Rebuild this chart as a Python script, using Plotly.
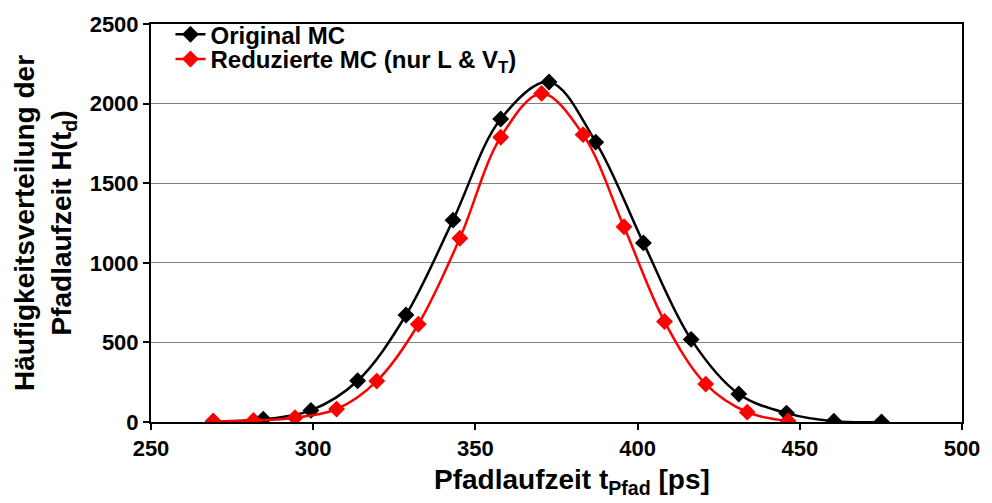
import plotly.graph_objects as go

# Path delay histogram: full Monte Carlo vs. reduced Monte Carlo (L and V_T only)
t_original = [269.2, 284.6, 299.3, 313.7, 328.6, 343.1, 357.8, 372.7, 387.1,
              401.8, 416.5, 431.2, 445.9, 460.5, 475.2]
h_original = [5, 17, 73, 259, 672, 1268, 1903, 2136, 1758,
              1125, 519, 176, 56, 5, 0]

t_reduced = [269.2, 281.6, 294.4, 307.2, 319.6, 332.4, 345.2, 357.8, 370.4,
             383.2, 395.8, 408.3, 421.0, 433.8, 446.4]
h_reduced = [5, 10, 27, 81, 257, 614, 1154, 1789, 2064,
             1805, 1226, 631, 238, 62, 6]

x_ticks = [250, 300, 350, 400, 450, 500]
y_ticks = [0, 500, 1000, 1500, 2000, 2500]

FONT = "Liberation Sans, Arial, sans-serif"

fig = go.Figure()
fig.add_trace(go.Scatter(
    x=t_original, y=h_original, mode="lines+markers", name="Original MC",
    line=dict(color="#000000", width=2.5, shape="spline", smoothing=1),
    marker=dict(symbol="diamond", size=13, color="#000000"),
    legend="legend",
))
fig.add_trace(go.Scatter(
    x=t_reduced, y=h_reduced, mode="lines+markers",
    name="Reduzierte MC (nur L &amp; V<sub>T</sub>)",
    line=dict(color="#FF0000", width=2.5, shape="spline", smoothing=1),
    marker=dict(symbol="diamond", size=13, color="#FF0000"),
    legend="legend2",
))

legend_style = dict(
    xanchor="left", yanchor="middle",
    bgcolor="rgba(0,0,0,0)", borderwidth=0,
    font=dict(family=FONT, size=24, color="black", weight="bold"),
    itemwidth=30,
)

fig.update_layout(
    width=992, height=503,
    margin=dict(l=151, r=28, t=19, b=81),
    paper_bgcolor="white", plot_bgcolor="white",
    font=dict(family=FONT, color="black", weight="bold"),
    showlegend=True,
    legend=dict(x=0.024, y=0.973, **legend_style),
    legend2=dict(x=0.024, y=0.911, **legend_style),
    xaxis=dict(
        range=[250, 500], tickvals=x_ticks, ticktext=[str(v) for v in x_ticks],
        showgrid=False, zeroline=False,
        showline=True, linecolor="black", linewidth=2, mirror=True,
        ticks="outside", ticklen=6, tickwidth=2, tickcolor="black",
        tickfont=dict(family=FONT, size=22, color="black", weight="bold"),
    ),
    yaxis=dict(
        range=[0, 2500], tickvals=y_ticks, ticktext=[str(v) for v in y_ticks],
        showgrid=True, gridcolor="#808080", gridwidth=1, zeroline=False,
        showline=True, linecolor="black", linewidth=2, mirror=True,
        ticks="outside", ticklen=6, tickwidth=2, tickcolor="black",
        tickfont=dict(family=FONT, size=22, color="black", weight="bold"),
        title=dict(text="Häufigkeitsverteilung der<br>Pfadlaufzeit H(t<sub>d</sub>)",
                   font=dict(family=FONT, size=28, color="black", weight="bold"),
                   standoff=10),
    ),
    annotations=[dict(
        text="Pfadlaufzeit t<sub>Pfad</sub> [ps]",
        xref="paper", yref="paper", x=0.519, y=0,
        xanchor="center", yanchor="top", yshift=-40,
        showarrow=False,
        font=dict(family=FONT, size=28, color="black", weight="bold"),
    )],
)

fig.write_html("out.html")
